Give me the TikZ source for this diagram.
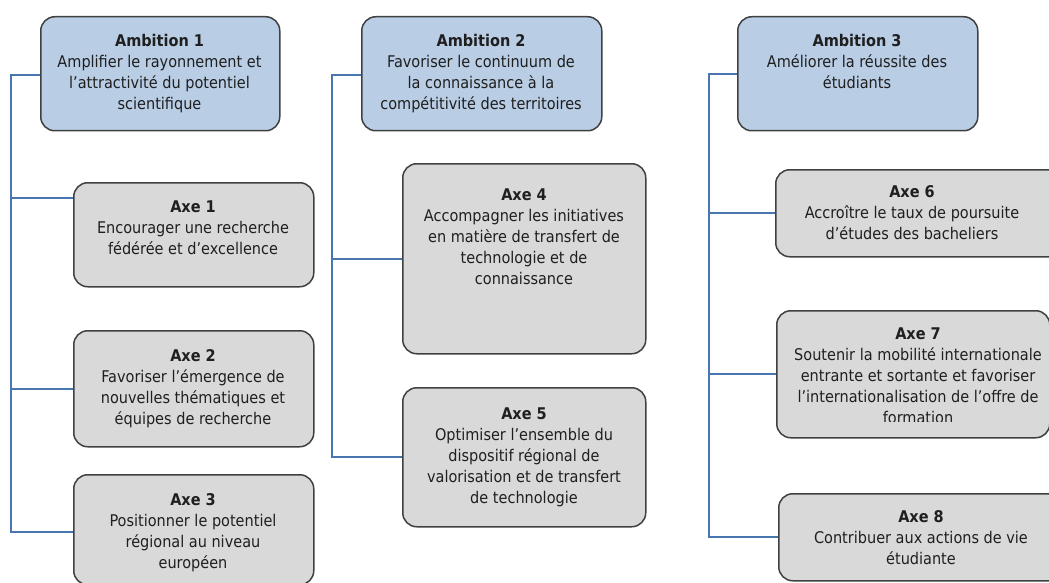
\documentclass[tikz,border=0pt]{standalone}
\usepackage{fontspec}
\setmainfont{DejaVu Sans Condensed}
\definecolor{ambfill}{HTML}{B9CDE5}
\definecolor{axefill}{HTML}{D9D9D9}
\definecolor{boxline}{HTML}{404040}
\definecolor{connline}{HTML}{4A76B0}
\definecolor{txtcol}{HTML}{1F1F1F}
\tikzset{
  boxbase/.style={draw=boxline, line width=1.5pt, rounded corners=14pt, inner sep=0pt, anchor=north west},
  ambbox/.style={boxbase, fill=ambfill},
  axebox/.style={boxbase, fill=axefill},
  lbl/.style={align=center, anchor=base, inner sep=0pt, text=txtcol, font=\fontsize{16.1}{21}\selectfont},
  conn/.style={draw=connline, line width=1.8pt}
}
\begin{document}
\begin{tikzpicture}[x=1pt,y=-1pt]
\useasboundingbox (0,0) rectangle (1049,583);
\clip (0,0) rectangle (1049,583);
% boxes
\node[ambbox, minimum width=239pt, minimum height=114pt] (amb1) at (40,16) {};
\node[ambbox, minimum width=240pt, minimum height=114pt] (amb2) at (361,16) {};
\node[ambbox, minimum width=240pt, minimum height=114pt] (amb3) at (737,16) {};
\node[axebox, minimum width=240pt, minimum height=104pt] (axe1) at (73,182) {};
\node[axebox, minimum width=240pt, minimum height=116pt] (axe2) at (73,330) {};
\node[axebox, minimum width=240pt, minimum height=110pt] (axe3) at (73,474) {};
\node[axebox, minimum width=243pt, minimum height=190pt] (axe4) at (402,163) {};
\node[axebox, minimum width=243pt, minimum height=139pt] (axe5) at (402,387) {};
\node[axebox, minimum width=290pt, minimum height=87pt] (axe6) at (775,169) {};
\node[axebox, minimum width=273pt, minimum height=127pt] (axe7) at (776,310) {};
\node[axebox, minimum width=290pt, minimum height=87pt] (axe8) at (778,493) {};
% texts (anchor = baseline of the last line)
\node[lbl] (t1) at (159.5,110) {\textbf{Ambition 1}\\Amplifier le rayonnement et\\l’attractivité du potentiel\\scientifique};
\node[lbl] (t2) at (481,110) {\textbf{Ambition 2}\\Favoriser le continuum de\\la connaissance à la\\compétitivité des territoires};
\node[lbl] (t3) at (857,89) {\textbf{Ambition 3}\\Améliorer la réussite des\\étudiants};
\node[lbl] (ta1) at (193,254) {\textbf{Axe 1}\\Encourager une recherche\\fédérée et d’excellence};
\node[lbl] (ta2) at (193,424) {\textbf{Axe 2}\\Favoriser l’émergence de\\nouvelles thématiques et\\équipes de recherche};
\node[lbl] (ta3) at (193,568) {\textbf{Axe 3}\\Positionner le potentiel\\régional au niveau\\européen};
\node[lbl] (ta4) at (524,284) {\textbf{Axe 4}\\Accompagner les initiatives\\en matière de transfert de\\technologie et de\\connaissance};
\node[lbl] (ta5) at (524,503) {\textbf{Axe 5}\\Optimiser l’ensemble du\\dispositif régional de\\valorisation et de transfert\\de technologie};
\node[lbl] (ta6) at (912,239) {\textbf{Axe 6}\\Accroître le taux de poursuite\\d’études des bacheliers};
\begin{scope}
\clip (776,311) rectangle (1049,421);
\node[lbl] (ta7) at (918,423) {\textbf{Axe 7}\\Soutenir la mobilité internationale\\entrante et sortante et favoriser\\l’internationalisation de l’offre de\\formation};
\end{scope}
\node[lbl] (ta8) at (921,564) {\textbf{Axe 8}\\Contribuer aux actions de vie\\étudiante};
% connectors
\coordinate (c1) at (11,75);
\coordinate (c2) at (332,75);
\coordinate (c3) at (709,74);
\coordinate (b1) at (73,198);
\draw[conn] (amb1.west |- c1) -- (c1) |- (axe3.west |- 0,532);
\draw[conn] (c1 |- b1) -- (b1);
\draw[conn] (c1 |- axe2.west) -- (axe2.west);
\draw[conn] (amb2.west |- c2) -- (c2) |- (axe5.west);
\draw[conn] (c2 |- axe4.west) -- (axe4.west);
\draw[conn] (amb3.west |- c3) -- (c3) |- (axe8.west |- 0,537);
\draw[conn] (c3 |- axe6.west) -- (axe6.west);
\draw[conn] (c3 |- axe7.west) -- (axe7.west);
\end{tikzpicture}
\end{document}
